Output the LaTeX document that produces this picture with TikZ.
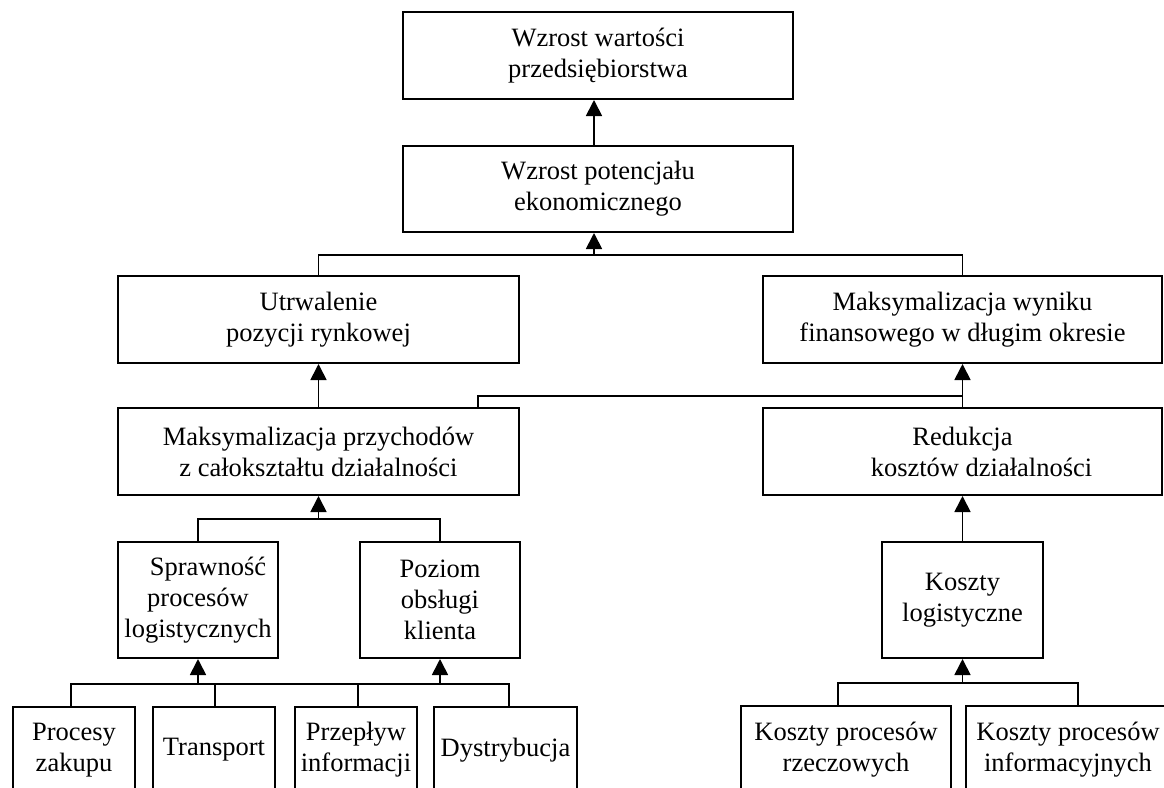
\documentclass[tikz,border=0pt]{standalone}
\usepackage{fontspec}
\setmainfont{Liberation Serif}
\usetikzlibrary{arrows.meta,calc}
\begin{document}
\begin{tikzpicture}[x=1pt,y=-1pt,
  box/.style={draw, line width=2pt, inner sep=0pt, align=center, font=\fontsize{26.5}{31}\selectfont},
  conn/.style={line width=1.7pt},
  arr/.style={conn, -{Triangle[width=16pt,length=16pt]}}]
\useasboundingbox (0,0) rectangle (1164,787);
\clip (0,0) rectangle (1164,787);
% level 1-2
\node[box, minimum width=390pt, minimum height=87pt] (b1) at (598,55.5) {Wzrost wartości\\przedsiębiorstwa};
\node[box, minimum width=390pt, minimum height=86pt] (b2) at (598,189) {Wzrost potencjału\\ekonomicznego};
% level 3
\node[box, minimum width=401pt, minimum height=87pt] (b3) at (318.5,319.5) {Utrwalenie\\pozycji rynkowej};
\node[box, minimum width=399pt, minimum height=87pt] (b4) at (962.5,319.5) {Maksymalizacja wyniku\\finansowego w długim okresie};
% level 4
\node[box, minimum width=401pt, minimum height=87pt] (b5) at (318.5,451.5) {Maksymalizacja przychodów\\z całokształtu działalności};
\node[box, minimum width=399pt, minimum height=87pt] (b6) at (962.5,451.5) {Redukcja\\\hspace*{38pt}kosztów działalności};
% level 5
\node[box, minimum width=160pt, minimum height=116pt] (b7) at (198,600) {\hspace*{20pt}Sprawność\\procesów\\logistycznych};
\node[box, minimum width=160pt, minimum height=116pt] (b8) at (440,600) {Poziom\\obsługi\\klienta};
\node[box, minimum width=161pt, minimum height=116pt] (b9) at (962.5,600) {Koszty\\logistyczne};
% level 6
\node[box, minimum width=122pt, minimum height=86pt] (b10) at (74,750) {Procesy\\zakupu};
\node[box, minimum width=122pt, minimum height=86pt] (b11) at (214,750) {Transport};
\node[box, minimum width=122pt, minimum height=86pt] (b12) at (356,750) {Przepływ\\informacji};
\node[box, minimum width=143pt, minimum height=86pt] (b13) at (505.5,750) {Dystrybucja};
\node[box, minimum width=210pt, minimum height=88pt] (b14) at (846,750) {Koszty procesów\\rzeczowych};
\node[box, minimum width=230pt, minimum height=88pt] (b15) at (1081,750) {\hspace*{-26pt}Koszty procesów\\\hspace*{-26pt}informacyjnych};
% junction coordinates
\coordinate (j1) at (594,255);
\coordinate (k1) at (478,396);
\coordinate (j3) at (318.5,519);
\coordinate (j4) at (0,684);
\coordinate (j5) at (0,683);
% connectors
\draw[arr] (b2.north -| j1) -- (b1.south -| j1);
\draw[conn] (b3.north) -- (b3.north |- j1) -- (b4.north |- j1) -- (b4.north);
\draw[arr] (j1) -- (b2.south -| j1);
\draw[arr] (b5.north) -- (b3.south);
\draw[conn] (b5.north -| k1) -- (k1) -- (k1 -| b6.north);
\draw[arr] (b6.north) -- (b4.south);
\draw[conn] (b7.north) -- (b7.north |- j3) -- (b8.north |- j3) -- (b8.north);
\draw[arr] (j3) -- (b5.south);
\draw[arr] (b9.north) -- (b6.south);
\draw[conn] ($(b10.north)+(-3,0)$) -- ($(b10.north |- j4)+(-3,0)$) -- ($(b13.north |- j4)+(3.5,0)$) -- ($(b13.north)+(3.5,0)$);
\draw[conn] ($(b11.north)+(1,0)$) -- ($(b11.north |- j4)+(1,0)$);
\draw[conn] ($(b12.north)+(2,0)$) -- ($(b12.north |- j4)+(2,0)$);
\draw[arr] (b7.south |- j4) -- (b7.south);
\draw[arr] (b8.south |- j4) -- (b8.south);
\draw[conn] ($(b14.north)+(-8,0)$) -- ($(b14.north |- j5)+(-8,0)$) -- ($(b15.north |- j5)+(-3,0)$) -- ($(b15.north)+(-3,0)$);
\draw[arr] (b9.south |- j5) -- (b9.south);
\end{tikzpicture}
\end{document}
